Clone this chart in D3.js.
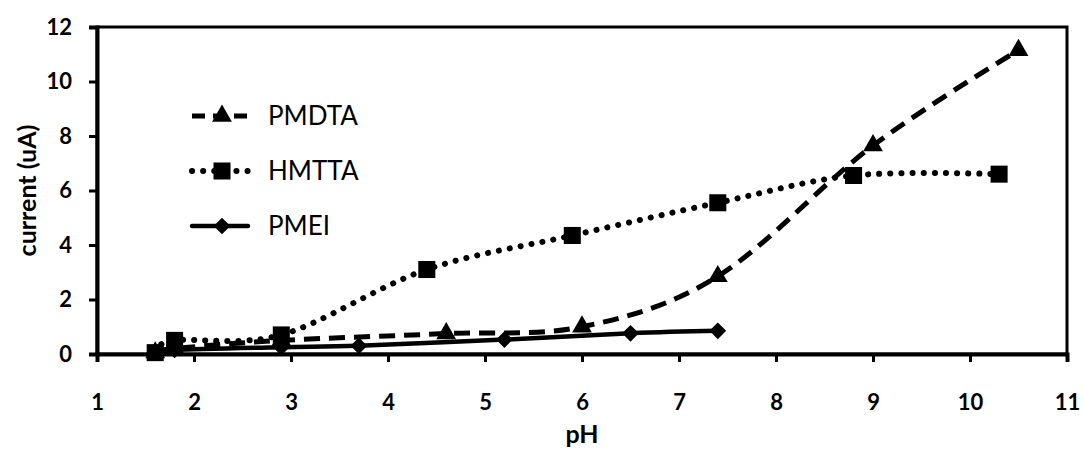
<!DOCTYPE html>
<html>
<head>
<meta charset="utf-8">
<script src="https://cdn.jsdelivr.net/npm/d3@7"></script>
<style>
  html, body { margin: 0; padding: 0; background: #fff; }
  svg text { font-family: Lato, "Noto Sans", sans-serif; fill: #000; }
</style>
</head>
<body>
<div id="chart"></div>
<script>
// pH vs current, three polymer series
const pmdtaPH = [1.6, 1.8, 2.9, 4.6, 6.0, 7.4, 9.0, 10.5];
const pmdtaCurrent = [0.05, 0.2, 0.5, 0.75, 1.0, 2.85, 7.65, 11.15];

const hmttaPH = [1.6, 1.8, 2.9, 4.4, 5.9, 7.4, 8.8, 10.3];
const hmttaCurrent = [0.05, 0.5, 0.7, 3.1, 4.35, 5.55, 6.55, 6.6];

const pmeiPH = [1.6, 1.8, 2.9, 3.7, 5.2, 6.5, 7.4];
const pmeiCurrent = [0.05, 0.15, 0.25, 0.3, 0.53, 0.76, 0.85];

const xTicks = [1, 2, 3, 4, 5, 6, 7, 8, 9, 10, 11];
const yTicks = [0, 2, 4, 6, 8, 10, 12];

const width = 1084;
const height = 450;
const margin = { left: 97, right: 17, top: 27, bottom: 96 };

const svg = d3.select("#chart")
  .append("svg")
  .attr("width", width)
  .attr("height", height);

const x = d3.scaleLinear().domain([1, 11]).range([margin.left, width - margin.right]);
const y = d3.scaleLinear().domain([0, 12]).range([height - margin.bottom, margin.top]);

// plot frame
svg.append("rect")
  .attr("x", x(1))
  .attr("y", y(12))
  .attr("width", x(11) - x(1))
  .attr("height", y(0) - y(12))
  .attr("fill", "none")
  .attr("stroke", "#000")
  .attr("stroke-width", 3);

const xAxis = svg.append("g")
  .attr("transform", `translate(0,${y(0)})`)
  .call(d3.axisBottom(x).tickValues(xTicks).tickSize(8).tickPadding(32).tickFormat(d3.format("d")));
const yAxis = svg.append("g")
  .attr("transform", `translate(${x(1)},0)`)
  .call(d3.axisLeft(y).tickValues(yTicks).tickSize(8).tickPadding(17).tickFormat(d3.format("d")));

[xAxis, yAxis].forEach((g) => {
  g.select(".domain").attr("stroke", "#000").attr("stroke-width", 4);
  g.selectAll(".tick line").attr("stroke", "#000").attr("stroke-width", 3);
  g.selectAll(".tick text")
    .attr("font-size", 22)
    .attr("font-weight", "bold");
});

svg.append("text")
  .attr("x", (x(1) + x(11)) / 2)
  .attr("y", 443)
  .attr("text-anchor", "middle")
  .attr("font-size", 25)
  .attr("font-weight", "bold")
  .text("pH");

svg.append("text")
  .attr("transform", `translate(36,${(y(0) + y(12)) / 2}) rotate(-90)`)
  .attr("text-anchor", "middle")
  .attr("font-size", 25)
  .attr("font-weight", "bold")
  .text("current (uA)");

// rotate: degrees applied to the marker (square turned 45° gives the Excel diamond)
const series = [
  { name: "PMDTA", xs: pmdtaPH, ys: pmdtaCurrent, dash: "16 9", cap: "butt", width: 5, marker: d3.symbolTriangle, size: 170, rotate: 0 },
  { name: "HMTTA", xs: hmttaPH, ys: hmttaCurrent, dash: "0.1 11", cap: "round", width: 6, marker: d3.symbolSquare, size: 290, rotate: 0 },
  { name: "PMEI", xs: pmeiPH, ys: pmeiCurrent, dash: null, cap: "round", width: 4.5, marker: d3.symbolSquare, size: 140, rotate: 45 },
];

const line = d3.line()
  .x((d) => x(d[0]))
  .y((d) => y(d[1]))
  .curve(d3.curveCardinal.tension(0));

series.forEach((s) => {
  const pts = s.xs.map((v, i) => [v, s.ys[i]]);
  svg.append("path")
    .datum(pts)
    .attr("d", line)
    .attr("fill", "none")
    .attr("stroke", "#000")
    .attr("stroke-width", s.width)
    .attr("stroke-linecap", s.cap)
    .attr("stroke-dasharray", s.dash);
  svg.append("g")
    .selectAll("path")
    .data(pts)
    .join("path")
    .attr("transform", (d) => `translate(${x(d[0])},${y(d[1])}) rotate(${s.rotate})`)
    .attr("d", d3.symbol().type(s.marker).size(s.size))
    .attr("fill", "#000");
});

// legend
const legend = svg.append("g").attr("transform", "translate(190,116)");
const rows = legend.selectAll("g")
  .data(series)
  .join("g")
  .attr("transform", (d, i) => `translate(0,${i * 55})`);

rows.append("line")
  .attr("x1", 2).attr("x2", (d) => (d.name === "PMEI" ? 58 : 64))
  .attr("y1", 0).attr("y2", 0)
  .attr("stroke", "#000")
  .attr("stroke-width", (d) => d.width)
  .attr("stroke-linecap", (d) => d.cap)
  .attr("stroke-dasharray", (d) => (d.name === "PMDTA" ? "13 8" : d.dash));

rows.append("path")
  .attr("transform", (d) => `translate(32,0) rotate(${d.rotate})`)
  .attr("d", (d) => d3.symbol().type(d.marker).size(d.size)())
  .attr("fill", "#000");

rows.append("text")
  .attr("x", 78)
  .attr("y", 9)
  .attr("font-size", 26)
  .text((d) => d.name);
</script>
</body>
</html>
